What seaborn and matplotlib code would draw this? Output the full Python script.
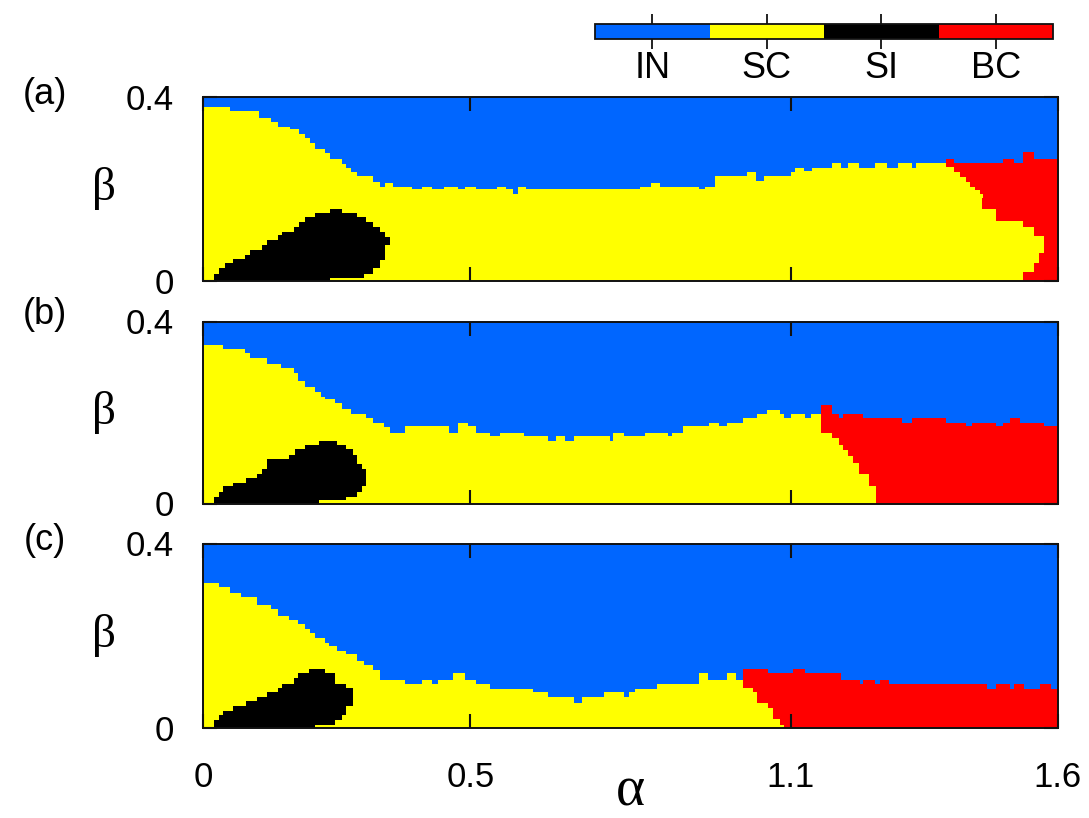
import numpy as np
import matplotlib
matplotlib.use("Agg")
import matplotlib.pyplot as plt
from matplotlib.colors import ListedColormap
import seaborn as sns

# ---------------------------------------------------------------- phases
PHASES = ["IN", "SC", "SI", "BC"]
PHASE_COLORS = ["#0066ff", "#ffff00", "#000000", "#ff0000"]
PANEL_TAGS = ["(a)", "(b)", "(c)"]

ALPHA_MAX, BETA_MAX = 1.6, 0.4
ALPHA_TICKS = [0, 0.5, 1.1, 1.6]
ALPHA_TICK_LABELS = ["0", "0.5", "1.1", "1.6"]
BETA_TICKS = [0, 0.4]
BETA_TICK_LABELS = ["0", "0.4"]

# ---------------------------------------------------------------- panel (a)
# IN boundary: staircase, beta level up to each right alpha edge
A_TOP_ALPHA = [0.050, 0.106, 0.128, 0.140, 0.162, 0.181, 0.190, 0.200, 0.209, 0.228,
               0.237, 0.259, 0.268, 0.278, 0.287, 0.318, 0.331, 0.340, 0.356, 0.390,
               0.409, 0.428, 0.449, 0.478, 0.490, 0.509, 0.549, 0.568, 0.581, 0.590,
               0.606, 0.818, 0.837, 0.855, 0.927, 0.940, 0.958, 1.018, 1.036, 1.049,
               1.099, 1.108, 1.124, 1.139, 1.177, 1.196, 1.208, 1.227, 1.258, 1.280,
               1.299, 1.327, 1.336, 1.389, 1.405, 1.498, 1.517, 1.536, 1.555, 1.600]
A_TOP_BETA = [0.377, 0.370, 0.355, 0.346, 0.335, 0.329, 0.320, 0.309, 0.299, 0.288,
              0.277, 0.266, 0.255, 0.246, 0.237, 0.228, 0.215, 0.206, 0.213, 0.206,
              0.199, 0.206, 0.199, 0.206, 0.199, 0.206, 0.199, 0.206, 0.199, 0.190,
              0.206, 0.199, 0.206, 0.213, 0.206, 0.199, 0.206, 0.228, 0.237, 0.217,
              0.228, 0.237, 0.246, 0.241, 0.246, 0.257, 0.246, 0.257, 0.246, 0.257,
              0.246, 0.257, 0.246, 0.257, 0.265, 0.257, 0.265, 0.257, 0.279, 0.265]
# SI island: for each beta row (upper edge), alpha extent [left, right)
A_SI_BETA = [0.0087, 0.0159, 0.0268, 0.0392, 0.0449, 0.0486, 0.0580, 0.0667, 0.0776,
             0.0899, 0.0958, 0.0993, 0.1065, 0.1174, 0.1283, 0.1391, 0.1478, 0.1573]
A_SI_LEFT = [0.019, 0.019, 0.030, 0.039, 0.056, 0.056, 0.078, 0.087, 0.109,
             0.120, 0.141, 0.141, 0.147, 0.169, 0.181, 0.190, 0.209, 0.237]
A_SI_RIGHT = [0.237, 0.300, 0.318, 0.331, 0.331, 0.340, 0.340, 0.340, 0.340,
              0.350, 0.350, 0.340, 0.340, 0.331, 0.318, 0.306, 0.287, 0.259]
# BC region: for each beta row (upper edge), alpha where BC begins
A_BC_BETA = [0.020, 0.039, 0.059, 0.097, 0.117, 0.130, 0.157, 0.179, 0.189, 0.197,
             0.204, 0.215, 0.225, 0.237, 0.248, 0.400]
A_BC_LEFT = [1.536, 1.555, 1.565, 1.574, 1.555, 1.536, 1.486, 1.458, 1.461, 1.455,
             1.446, 1.436, 1.427, 1.418, 1.405, 1.389]

# ---------------------------------------------------------------- panel (b)
B_TOP_ALPHA = [0.0375, 0.078, 0.087, 0.120, 0.144, 0.169, 0.178, 0.190, 0.209, 0.219,
               0.228, 0.247, 0.259, 0.278, 0.306, 0.318, 0.337, 0.350, 0.378, 0.459,
               0.478, 0.496, 0.509, 0.537, 0.556, 0.599, 0.646, 0.659, 0.677, 0.696,
               0.762, 0.768, 0.787, 0.827, 0.871, 0.877, 0.898, 0.948, 0.966, 0.979,
               1.010, 1.038, 1.056, 1.079, 1.088, 1.100, 1.127, 1.137, 1.158, 1.177,
               1.189, 1.197, 1.236, 1.308, 1.327, 1.389, 1.427, 1.439, 1.486, 1.498,
               1.510, 1.529, 1.574, 1.600]
B_TOP_BETA = [0.347, 0.339, 0.330, 0.319, 0.307, 0.298, 0.288, 0.270, 0.256, 0.246,
              0.236, 0.229, 0.220, 0.207, 0.197, 0.187, 0.178, 0.167, 0.156, 0.170,
              0.156, 0.178, 0.169, 0.156, 0.147, 0.156, 0.147, 0.138, 0.147, 0.138,
              0.147, 0.138, 0.156, 0.147, 0.156, 0.147, 0.156, 0.169, 0.178, 0.169,
              0.178, 0.187, 0.197, 0.205, 0.197, 0.187, 0.197, 0.187, 0.197, 0.218,
              0.197, 0.187, 0.197, 0.187, 0.178, 0.187, 0.178, 0.169, 0.178, 0.169,
              0.178, 0.187, 0.178, 0.169]
B_SI_BETA = [0.0073, 0.0147, 0.0257, 0.0367, 0.0455, 0.0550, 0.0646, 0.0749, 0.0866,
             0.0969, 0.1065, 0.1189, 0.1284, 0.1380]
B_SI_LEFT = [0.019, 0.019, 0.030, 0.0375, 0.056, 0.081, 0.100, 0.109, 0.120,
             0.120, 0.159, 0.172, 0.190, 0.2185]
B_SI_RIGHT = [0.2185, 0.268, 0.287, 0.298, 0.306, 0.306, 0.306, 0.306, 0.298,
              0.287, 0.287, 0.280, 0.268, 0.250]
B_BC_BETA = [0.038, 0.065, 0.0895, 0.104, 0.117, 0.128, 0.145, 0.156, 0.400]
B_BC_LEFT = [1.259, 1.248, 1.228, 1.217, 1.208, 1.197, 1.189, 1.177, 1.158]

# ---------------------------------------------------------------- panel (c)
C_TOP_ALPHA = [0.030, 0.049, 0.069, 0.100, 0.128, 0.139, 0.159, 0.178, 0.190, 0.199,
               0.209, 0.228, 0.236, 0.250, 0.268, 0.287, 0.300, 0.318, 0.331, 0.378,
               0.409, 0.428, 0.440, 0.468, 0.490, 0.509, 0.537, 0.618, 0.646, 0.696,
               0.709, 0.749, 0.787, 0.797, 0.808, 0.849, 0.927, 0.946, 0.979, 0.998,
               1.010, 1.057, 1.106, 1.127, 1.196, 1.229, 1.236, 1.258, 1.267, 1.286,
               1.467, 1.486, 1.510, 1.518, 1.537, 1.568, 1.587, 1.600]
C_TOP_BETA = [0.316, 0.306, 0.293, 0.285, 0.267, 0.257, 0.243, 0.234, 0.226, 0.214,
              0.204, 0.195, 0.185, 0.177, 0.168, 0.159, 0.146, 0.137, 0.126, 0.104,
              0.096, 0.104, 0.096, 0.104, 0.119, 0.104, 0.096, 0.086, 0.077, 0.068,
              0.055, 0.068, 0.077, 0.068, 0.077, 0.086, 0.096, 0.119, 0.104, 0.119,
              0.104, 0.128, 0.119, 0.128, 0.119, 0.104, 0.096, 0.104, 0.096, 0.104,
              0.096, 0.086, 0.096, 0.086, 0.096, 0.086, 0.096, 0.086]
C_SI_BETA = [0.0072, 0.0179, 0.0287, 0.0381, 0.0467, 0.0575, 0.0683, 0.0770, 0.0864,
             0.0958, 0.1080, 0.1188, 0.1275]
C_SI_LEFT = [0.019, 0.019, 0.030, 0.0375, 0.056, 0.081, 0.100, 0.120, 0.139,
             0.147, 0.169, 0.178, 0.1985]
C_SI_RIGHT = [0.209, 0.2485, 0.259, 0.268, 0.268, 0.280, 0.280, 0.280, 0.280,
              0.268, 0.2485, 0.2485, 0.228]
C_BC_BETA = [0.0072, 0.0194, 0.043, 0.0553, 0.077, 0.0864, 0.400]
C_BC_LEFT = [1.0875, 1.080, 1.068, 1.0565, 1.0375, 1.029, 1.010]

PANELS = [
    (A_TOP_ALPHA, A_TOP_BETA, A_SI_BETA, A_SI_LEFT, A_SI_RIGHT, A_BC_BETA, A_BC_LEFT),
    (B_TOP_ALPHA, B_TOP_BETA, B_SI_BETA, B_SI_LEFT, B_SI_RIGHT, B_BC_BETA, B_BC_LEFT),
    (C_TOP_ALPHA, C_TOP_BETA, C_SI_BETA, C_SI_LEFT, C_SI_RIGHT, C_BC_BETA, C_BC_LEFT),
]

# sampling of the (alpha, beta) plane used for drawing
D_ALPHA, D_BETA = 0.0025, 0.0025
N_ALPHA = int(round(ALPHA_MAX / D_ALPHA))
N_BETA = int(round(BETA_MAX / D_BETA))
alpha_c = (np.arange(N_ALPHA) + 0.5) * D_ALPHA
beta_c = (np.arange(N_BETA) + 0.5) * D_BETA


def staircase(edges, levels, x):
    """Piecewise-constant lookup: levels[i] holds for x below edges[i]."""
    edges = np.asarray(edges, float)
    levels = np.asarray(levels, float)
    idx = np.searchsorted(edges, x, side="right")
    out = np.full(np.shape(x), np.nan)
    ok = idx < len(edges)
    out[ok] = levels[idx[ok]]
    return out


def phase_map(top_a, top_b, si_b, si_l, si_r, bc_b, bc_l):
    A, B = np.meshgrid(alpha_c, beta_c)
    top = staircase(top_a, top_b, alpha_c)[None, :]
    left = staircase(si_b, si_l, beta_c)[:, None]
    right = staircase(si_b, si_r, beta_c)[:, None]
    bc = staircase(bc_b, bc_l, beta_c)[:, None]
    grid = np.ones(A.shape, dtype=float)          # SC
    grid[(A >= left) & (A < right)] = 2           # SI
    grid[A >= bc] = 3                             # BC
    grid[B >= top] = 0                            # IN
    return grid


# ---------------------------------------------------------------- figure
sns.set_style("white")
plt.rcParams["font.family"] = ["Liberation Sans", "DejaVu Sans"]
plt.rcParams["text.color"] = "black"
plt.rcParams["axes.labelcolor"] = "black"
plt.rcParams["xtick.color"] = "black"
plt.rcParams["ytick.color"] = "black"
plt.rcParams["axes.axisbelow"] = False

W, H = 1089, 818
fig = plt.figure(figsize=(W / 100, H / 100), dpi=100)


def px_box(x0, y0, x1, y1):
    return [x0 / W, 1 - y1 / H, (x1 - x0) / W, (y1 - y0) / H]


AX_BOXES = [(203.3, 97.0, 1057.7, 281.0),
            (203.3, 321.5, 1057.7, 503.5),
            (203.3, 543.5, 1057.7, 728.0)]
TAG_Y = [95, 315, 541]

cmap = ListedColormap(PHASE_COLORS)
cax = fig.add_axes(px_box(595, 24, 1053, 39.3))
SERIF = ["Liberation Serif", "DejaVu Serif"]
FRAME = "#111111"

axes = []
for i, (box, spec) in enumerate(zip(AX_BOXES, PANELS)):
    ax = fig.add_axes(px_box(*box))
    grid = phase_map(*spec)
    kws = dict(cmap=cmap, vmin=-0.5, vmax=3.5, xticklabels=False, yticklabels=False,
               ax=ax, rasterized=True)
    if i == 0:
        sns.heatmap(grid, cbar=True, cbar_ax=cax,
                    cbar_kws=dict(orientation="horizontal", ticks=[0, 1, 2, 3]), **kws)
    else:
        sns.heatmap(grid, cbar=False, **kws)
    ax.set_axisbelow(False)
    ax.set_xlim(0, N_ALPHA)
    ax.set_ylim(0, N_BETA)

    ax.set_xticks([a / D_ALPHA for a in ALPHA_TICKS])
    ax.set_yticks([b / D_BETA for b in BETA_TICKS])
    ax.set_yticklabels(BETA_TICK_LABELS)
    if i == 2:
        ax.set_xticklabels(ALPHA_TICK_LABELS)
    else:
        ax.set_xticklabels([])
    ax.tick_params(axis="both", direction="in", length=10, width=1.5, color=FRAME,
                   labelcolor="black", top=True, right=True, bottom=True, left=True,
                   labelsize=25)
    ax.tick_params(axis="x", pad=24)
    ax.tick_params(axis="y", pad=21)
    for sp in ax.spines.values():
        sp.set_visible(True)
        sp.set_linewidth(1.4)
        sp.set_color(FRAME)
        sp.set_zorder(5)

    ax.set_ylabel("β", rotation=0, family=SERIF, fontsize=34, va="center", ha="center",
                  color="black")
    ax.yaxis.set_label_coords(-0.116, 0.5)
    fig.text(45 / W, 1 - TAG_Y[i] / H, PANEL_TAGS[i], fontsize=26,
             ha="center", va="center", color="black")
    axes.append(ax)

axes[2].set_xlabel("α", family=SERIF, fontsize=40, va="bottom", color="black")
axes[2].xaxis.set_label_coords(0.5, -(817.5 - 728.0) / (728.0 - 543.5))

# phase colour key
cbar = axes[0].collections[0].colorbar
cbar.set_ticklabels(PHASES)
cbar.outline.set_visible(True)
cbar.outline.set_linewidth(1.3)
cbar.outline.set_edgecolor(FRAME)
cax.xaxis.set_ticks_position("both")
cax.tick_params(axis="x", direction="out", length=7.5, width=1.3, color=FRAME,
                labelcolor="black", top=True, bottom=True, labeltop=False,
                labelbottom=True, labelsize=26, pad=1)

fig.savefig("out.png", dpi=100)
